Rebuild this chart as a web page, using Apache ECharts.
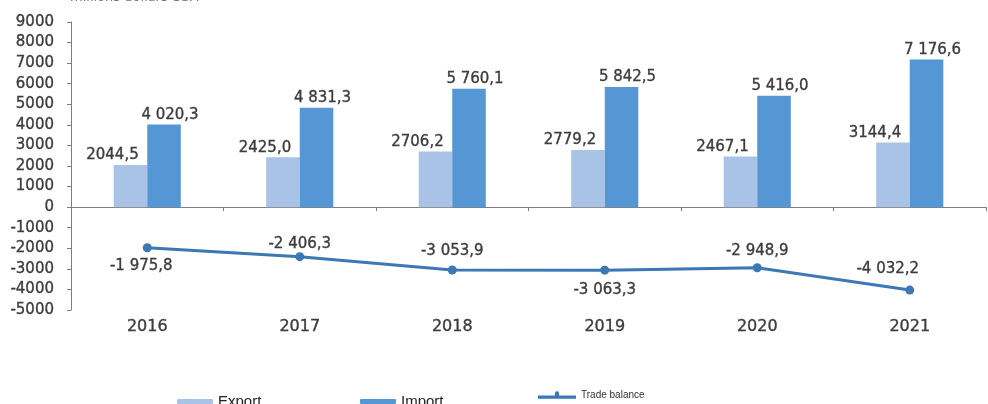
<!DOCTYPE html>
<html><head><meta charset="utf-8">
<script src="https://cdn.jsdelivr.net/npm/echarts@6/dist/echarts.min.js"></script>
<style>html,body{margin:0;padding:0;background:#fff}#c{width:988px;height:404px}</style>
</head><body><div id="c"></div>
<script>
const categories = ['2016','2017','2018','2019','2020','2021'];
const exportValues = [2044.5, 2425.0, 2706.2, 2779.2, 2467.1, 3144.4];
const importValues = [4020.3, 4831.3, 5760.1, 5842.5, 5416.0, 7176.6];
const balanceValues = [-1975.8, -2406.3, -3053.9, -3063.3, -2948.9, -4032.2];
const yTicks = {min: -5000, max: 9000, interval: 1000};
const unitTitle = 'millions dollars USA';

function fmt(v, sep) {
  const neg = v < 0; const a = Math.abs(v);
  let [i, d] = a.toFixed(1).split('.');
  if (sep) i = i.replace(/\B(?=(\d{3})+(?!\d))/g, ' ');
  return (neg ? '-' : '') + i + ',' + d;
}
const txt = '#3c3c3c';
const font = 'DejaVu Sans, sans-serif';
const emb = {textBorderColor: txt, textBorderWidth: 0.35};
const balancePos = ['bottom','top','top','bottom','top','top'];
const balanceOffset = [[-6,0],[0,5],[0,-1],[0,2],[0,1],[-22,-3]];

const chart = echarts.init(document.getElementById('c'));
chart.setOption({
  animation: false,
  textStyle: {fontFamily: font},
  grid: {left: 71, right: 2, top: 22, bottom: 94},
  graphic: [{type: 'text', left: 70, top: -9, style: {text: unitTitle, font: '13px DejaVu Sans', fill: '#777'}}],
  legend: [
    {data: ['Export'], left: 172, top: 389, itemWidth: 36, itemHeight: 5, itemGap: 4, textStyle: {fontSize: 15, color: '#222', fontFamily: 'Liberation Sans'}},
    {data: ['Import'], left: 355, top: 389, itemWidth: 36, itemHeight: 5, textStyle: {fontSize: 15, color: '#222', fontFamily: 'Liberation Sans'}},
    {data: [{name: 'Trade balance', icon: 'path://M0,4 L16,4 L16,2 A2,2 0 1 1 20,2 L20,4 L36,4 L36,7 L0,7 Z'}], left: 533, top: 385, itemWidth: 38, itemHeight: 8, itemGap: 12, textStyle: {fontSize: 10, color: '#333', fontFamily: 'Liberation Sans'}}
  ],
  xAxis: [
    {type: 'category', data: categories, axisLine: {onZero: true, lineStyle: {color: '#7f7f7f', width: 1}},
     axisTick: {show: true, length: 4, lineStyle: {color: '#7f7f7f'}}, axisLabel: {show: false}},
    {type: 'category', data: categories, position: 'bottom', axisLine: {show: false}, axisTick: {show: false},
     axisLabel: Object.assign({color: txt, fontSize: 16, margin: 9}, emb)}
  ],
  yAxis: {type: 'value', min: yTicks.min, max: yTicks.max, interval: yTicks.interval,
    axisLine: {show: true, lineStyle: {color: '#7f7f7f'}}, axisTick: {show: true, length: 4, lineStyle: {color: '#7f7f7f'}},
    splitLine: {show: false}, axisLabel: Object.assign({color: txt, fontSize: 15, margin: 17, formatter: v => String(v)}, emb)},
  series: [
    {name: 'Export', type: 'bar', data: exportValues, barGap: 0, barCategoryGap: '56%',
     itemStyle: {color: '#a8c3e6'},
     label: Object.assign({show: true, position: 'top', offset: [-18, 3], color: txt, fontSize: 15, formatter: p => fmt(p.value, false)}, emb)},
    {name: 'Import', type: 'bar', data: importValues,
     itemStyle: {color: '#5597d5'},
     label: Object.assign({show: true, position: 'top', offset: [6, 3], color: txt, fontSize: 15, formatter: p => fmt(p.value, true)}, emb)},
    {name: 'Trade balance', type: 'line', data: balanceValues.map((v, i) => ({value: v,
       label: {position: balancePos[i], offset: balanceOffset[i]}})),
     symbol: 'circle', symbolSize: 9, lineStyle: {color: '#3b78b4', width: 3}, itemStyle: {color: '#3b78b4'},
     label: Object.assign({show: true, color: txt, fontSize: 15, distance: 6, formatter: p => fmt(p.value, true)}, emb)}
  ]
});
</script></body></html>
